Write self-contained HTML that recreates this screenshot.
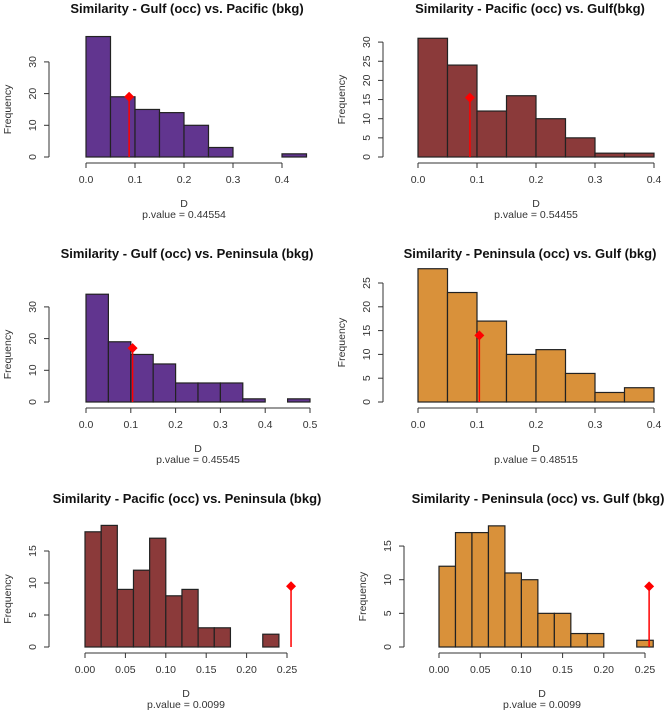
<!DOCTYPE html>
<html><head><meta charset="utf-8">
<style>
body{margin:0;background:#fff;width:669px;height:715px;overflow:hidden}
svg{display:block;font-family:"Liberation Sans",Arial,sans-serif}
</style></head>
<body>
<svg id="c" width="669" height="715" viewBox="0 0 669 715"></svg>
<script>
const titles = ["Similarity - Gulf (occ) vs. Pacific (bkg)","Similarity - Pacific (occ) vs. Gulf(bkg)","Similarity - Gulf (occ) vs. Peninsula (bkg)","Similarity - Peninsula (occ) vs. Gulf (bkg)","Similarity - Pacific (occ) vs. Peninsula (bkg)","Similarity - Peninsula (occ) vs. Gulf (bkg)"];
const counts1 = [38,19,15,14,10,3,0,0,1];
const counts2 = [31,24,12,16,10,5,1,1];
const counts3 = [34,19,15,12,6,6,6,1,0,1];
const counts4 = [28,23,17,10,11,6,2,3];
const counts5 = [18,19,9,12,17,8,9,3,3,0,0,2];
const counts6 = [12,17,17,18,11,10,5,5,2,2,0,0,1];
const binWidths = [0.05,0.05,0.05,0.05,0.02,0.02];
const observedD = [0.088,0.088,0.104,0.104,0.255,0.255];
const observedY = [19,15.5,17,14,9.5,9];
const pvalues = ["0.44554","0.54455","0.45545","0.48515","0.0099","0.0099"];
const xTicks1 = ["0.0","0.1","0.2","0.3","0.4"];
const xTicks3 = ["0.0","0.1","0.2","0.3","0.4","0.5"];
const xTicks5 = ["0.00","0.05","0.10","0.15","0.20","0.25"];
const yTicks1 = [0,10,20,30];
const yTicks2 = [0,5,10,15,20,25,30];
const yTicks4 = [0,5,10,15,20,25];
const yTicks5 = [0,5,10,15];

const svg=document.getElementById('c');
const NS='http://www.w3.org/2000/svg';
function mk(tag,attrs,parent,text){const e=document.createElementNS(NS,tag);for(const k in attrs)e.setAttribute(k,attrs[k]);if(text!==undefined)e.textContent=text;parent.appendChild(e);return e;}

const panels=[
 {counts:counts1,xt:xTicks1,yt:yTicks1,x0:86,xs:490,y0:157,ys:3.17,ax:49,tc:187,col:"#61358f"},
 {counts:counts2,xt:xTicks1,yt:yTicks2,x0:418,xs:590,y0:157,ys:3.83,ax:383,tc:530,col:"#8b3a3a"},
 {counts:counts3,xt:xTicks3,yt:yTicks1,x0:86,xs:448,y0:402,ys:3.17,ax:49,tc:187,col:"#61358f"},
 {counts:counts4,xt:xTicks1,yt:yTicks4,x0:418,xs:590,y0:402,ys:4.76,ax:383,tc:530,col:"#d9913a"},
 {counts:counts5,xt:xTicks5,yt:yTicks5,x0:85,xs:808,y0:647,ys:6.4,ax:49,tc:187,col:"#8b3a3a"},
 {counts:counts6,xt:xTicks5,yt:yTicks5,x0:439,xs:824,y0:647,ys:6.73,ax:404,tc:538,col:"#d9913a"}
];
panels.forEach((p,i)=>{
  const g=mk('g',{},svg);
  
  
  const X=v=>p.x0+v*p.xs, Y=v=>p.y0-v*p.ys;
  const t=mk('text',{x:p.tc,y:i<2?13:(i<4?258:503),'text-anchor':'middle','font-size':13,'font-weight':'bold',fill:'#111'},g,titles[i]);
  
  
  const bw=binWidths[i];
  p.counts.forEach((c,k)=>{
    const r=mk('rect',{x:X(k*bw),y:Y(c),width:X((k+1)*bw)-X(k*bw),height:c*p.ys,fill:p.col,stroke:'#222','stroke-width':1.2},g);
    
    
  });
  const nx=p.xt.length, xmax=parseFloat(p.xt[nx-1]);
  const ay=p.y0+6;
  mk('line',{x1:X(0),x2:X(xmax),y1:ay,y2:ay,stroke:'#333'},g);
  p.xt.forEach(s=>{const v=parseFloat(s);mk('line',{x1:X(v),x2:X(v),y1:ay,y2:ay+5,stroke:'#333'},g);
    const tl=mk('text',{x:X(v),y:ay+20,'text-anchor':'middle','font-size':10.5,fill:'#333'},g,s);
    
    });
  const ymax=p.yt[p.yt.length-1];
  mk('line',{x1:p.ax,x2:p.ax,y1:Y(0),y2:Y(ymax),stroke:'#333'},g);
  p.yt.forEach(v=>{mk('line',{x1:p.ax,x2:p.ax-5,y1:Y(v),y2:Y(v),stroke:'#333'},g);
    const lx=p.ax-13;
    const tl=mk('text',{x:lx,y:Y(v),'text-anchor':'middle','font-size':10.5,fill:'#333',transform:`rotate(-90 ${lx} ${Y(v)})`},g,String(v));
    
    });
  const yx=p.ax-38;
  const yl=mk('text',{x:yx,y:(Y(0)+Y(ymax))/2,'text-anchor':'middle','font-size':10.5,fill:'#333',transform:`rotate(-90 ${yx} ${(Y(0)+Y(ymax))/2})`},g,'Frequency');
  
  
  const cx=(X(0)+X(xmax))/2;
  const xl=mk('text',{x:cx,y:ay+44,'text-anchor':'middle','font-size':10.5,fill:'#333'},g,'D');
  
  
  const pv=mk('text',{x:cx,y:ay+55,'text-anchor':'middle','font-size':10.5,fill:'#333'},g,'p.value =  '+pvalues[i]);
  
  
  const ox=X(observedD[i]);
  const ln=mk('line',{x1:ox,x2:ox,y1:Y(0),y2:Y(observedY[i]),stroke:'#ff0000','stroke-width':1.5},g);
  
  
  const oy=Y(observedY[i]);
  const d=mk('polygon',{points:`${ox},${oy-5} ${ox+5},${oy} ${ox},${oy+5} ${ox-5},${oy}`,fill:'#ff0000'},g);
  
  
});
</script>
</body></html>
